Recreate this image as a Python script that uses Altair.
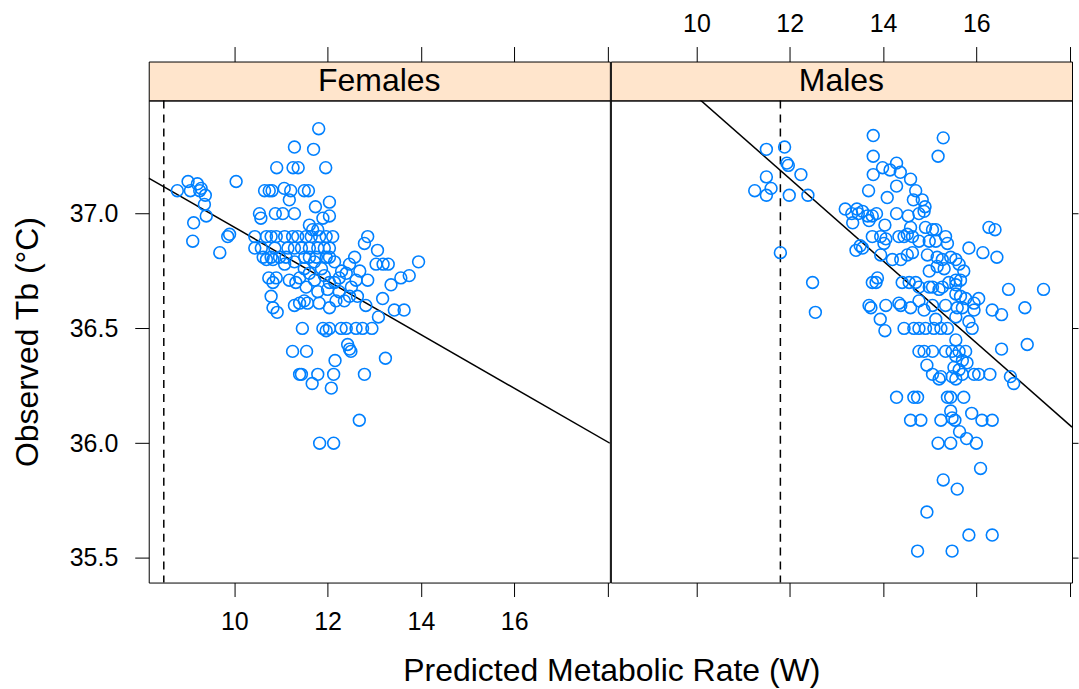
import altair as alt
import pandas as pd

FONT = "Liberation Sans"

panels = ["Females", "Males"]

# observed (predicted metabolic rate W, observed Tb °C)
female_obs = [
    (11.29, 37.29), (10.91, 37.20), (11.26, 37.20), (11.37, 37.20), (10.04, 37.14), (9.01, 37.14),
    (9.21, 37.13), (9.29, 37.11), (8.78, 37.10), (9.06, 37.10), (9.26, 37.10), (9.38, 37.08),
    (9.36, 37.04), (9.40, 36.99), (9.13, 36.96), (9.11, 36.88), (9.86, 36.90), (9.90, 36.91),
    (9.69, 36.83), (10.65, 37.10), (10.75, 37.10), (10.81, 37.10), (11.07, 37.11), (11.21, 37.10),
    (11.50, 37.10), (11.18, 37.06), (10.54, 37.00), (10.57, 36.98), (10.88, 37.00), (11.04, 37.00),
    (11.29, 37.00), (11.81, 37.37), (11.70, 37.28), (11.96, 37.20), (11.59, 37.10), (12.04, 37.05),
    (11.74, 37.03), (11.90, 36.98), (12.04, 36.99), (11.61, 36.95), (11.68, 36.93), (11.79, 36.93),
    (10.44, 36.90), (10.69, 36.90), (10.79, 36.90), (10.90, 36.90), (11.08, 36.90), (11.25, 36.90),
    (11.36, 36.90), (11.54, 36.90), (11.65, 36.90), (11.83, 36.90), (11.97, 36.90), (12.11, 36.90),
    (10.44, 36.85), (10.58, 36.85), (10.87, 36.85), (11.15, 36.85), (11.29, 36.85), (11.44, 36.85),
    (11.61, 36.85), (11.79, 36.85), (11.93, 36.85), (12.04, 36.85),
    (10.62, 36.81), (10.79, 36.81), (10.97, 36.81), (11.11, 36.81), (11.51, 36.81), (11.61, 36.81),
    (11.76, 36.81), (11.97, 36.81), (12.04, 36.81),
    (12.86, 36.90), (12.79, 36.87), (13.07, 36.84), (13.04, 36.78), (13.19, 36.78), (10.69, 36.80),
    (10.83, 36.80), (13.30, 36.78), (13.95, 36.79), (10.74, 36.72), (10.83, 36.70), (10.90, 36.72),
    (11.18, 36.71), (11.40, 36.72), (11.61, 36.74), (11.72, 36.71), (12.04, 36.70), (12.25, 36.72),
    (12.40, 36.74), (12.61, 36.71), (12.86, 36.71), (13.36, 36.69), (13.57, 36.72), (13.75, 36.73),
    (10.79, 36.64), (10.83, 36.59), (10.92, 36.57), (11.29, 36.60), (11.40, 36.61), (11.50, 36.62),
    (11.57, 36.61), (11.82, 36.61), (12.04, 36.59), (12.18, 36.62), (12.36, 36.62), (12.47, 36.64),
    (12.64, 36.64), (12.82, 36.60), (13.18, 36.63), (13.43, 36.58), (13.64, 36.58), (13.09, 36.55),
    (11.46, 36.50), (11.90, 36.50), (11.97, 36.49), (12.04, 36.50), (12.29, 36.50), (12.40, 36.50),
    (12.61, 36.50), (12.75, 36.50), (12.95, 36.50), (11.25, 36.40), (11.55, 36.40), (12.43, 36.43),
    (12.47, 36.41), (12.50, 36.40), (13.24, 36.37), (12.16, 36.36), (11.40, 36.30), (11.44, 36.30),
    (11.79, 36.30), (12.13, 36.30), (12.79, 36.30), (11.67, 36.26), (12.08, 36.24), (12.68, 36.10),
    (11.83, 36.00), (12.13, 36.00),
    (11.08, 36.78), (11.29, 36.79), (11.50, 36.76), (11.72, 36.79), (11.87, 36.76), (12.15, 36.79),
    (12.30, 36.75), (12.47, 36.78), (12.58, 36.81), (12.69, 36.75), (12.00, 36.67), (11.79, 36.66),
    (11.54, 36.68), (11.32, 36.70), (12.25, 36.66), (12.51, 36.68), (11.93, 36.73), (12.15, 36.70),
]

male_obs = [
    (11.50, 37.28), (11.89, 37.29), (11.94, 37.22), (11.97, 37.21), (11.50, 37.16), (12.24, 37.17),
    (11.25, 37.10), (11.60, 37.11), (11.50, 37.08), (11.99, 37.08), (12.39, 37.08),
    (13.19, 37.02), (13.33, 37.00), (13.44, 37.02), (13.47, 37.00), (13.35, 36.96), (11.80, 36.83),
    (12.49, 36.70), (12.55, 36.57), (13.42, 36.84), (13.51, 36.86),
    (13.79, 37.34), (15.29, 37.33), (13.79, 37.25), (15.18, 37.25), (13.99, 37.20), (14.15, 37.19),
    (14.29, 37.22), (14.37, 37.18), (13.79, 37.17), (14.29, 37.12), (14.59, 37.15), (13.69, 37.10),
    (14.70, 37.10), (14.09, 37.07), (14.65, 37.06), (14.84, 37.06), (14.90, 37.03), (14.77, 37.00),
    (14.88, 37.01), (13.56, 37.01), (13.67, 36.99), (13.77, 36.99), (13.86, 37.00), (13.70, 36.97),
    (14.29, 37.00), (14.54, 36.99), (14.04, 36.95), (16.27, 36.94), (16.40, 36.93), (14.59, 36.94),
    (14.91, 36.94), (15.06, 36.93), (15.13, 36.93),
    (13.77, 36.90), (13.95, 36.90), (14.06, 36.89), (14.02, 36.87), (14.34, 36.90), (14.45, 36.90),
    (14.52, 36.91), (14.63, 36.90), (14.77, 36.88), (14.99, 36.88), (15.13, 36.88), (15.34, 36.90),
    (15.38, 36.87), (13.56, 36.85), (13.95, 36.82), (14.20, 36.80), (14.38, 36.80), (14.52, 36.82),
    (14.63, 36.83), (15.84, 36.85), (16.14, 36.83), (16.44, 36.81), (14.95, 36.82), (15.16, 36.81),
    (15.27, 36.80), (15.45, 36.81), (15.56, 36.80), (15.63, 36.78), (15.73, 36.75),
    (13.88, 36.72), (13.85, 36.70), (14.41, 36.70), (14.56, 36.70), (14.70, 36.70), (14.77, 36.68),
    (14.99, 36.75), (15.16, 36.77), (15.31, 36.76), (15.06, 36.68), (15.27, 36.68), (15.41, 36.70),
    (15.56, 36.71), (15.66, 36.71), (16.69, 36.67), (17.44, 36.67), (13.77, 36.70), (14.99, 36.68),
    (15.20, 36.67), (15.56, 36.69),
    (13.70, 36.60), (13.74, 36.59), (14.06, 36.60), (14.34, 36.61), (14.38, 36.60), (14.59, 36.59),
    (14.77, 36.62), (14.88, 36.58), (15.06, 36.60), (15.34, 36.60), (15.56, 36.65), (15.66, 36.64),
    (15.77, 36.63), (15.95, 36.61), (16.05, 36.63), (15.59, 36.59), (15.70, 36.59), (15.95, 36.58),
    (16.34, 36.58), (16.54, 36.56), (17.04, 36.59),
    (13.94, 36.54), (14.04, 36.49), (15.13, 36.54), (15.56, 36.55), (15.84, 36.53), (15.91, 36.50),
    (14.45, 36.50), (14.66, 36.50), (14.77, 36.50), (14.91, 36.50), (15.09, 36.50), (15.24, 36.50),
    (15.38, 36.50), (15.56, 36.45), (17.09, 36.43), (16.54, 36.41),
    (14.77, 36.40), (14.88, 36.40), (15.06, 36.40), (15.34, 36.40), (15.48, 36.40), (15.63, 36.40),
    (15.77, 36.40), (15.56, 36.38), (15.70, 36.36), (15.80, 36.35), (14.94, 36.34), (15.52, 36.33),
    (15.63, 36.32), (15.06, 36.30), (15.20, 36.28), (15.24, 36.29), (15.48, 36.29), (15.56, 36.28),
    (15.70, 36.30), (15.95, 36.30), (16.05, 36.30), (16.29, 36.30), (16.73, 36.29), (16.80, 36.26),
    (14.29, 36.20), (14.66, 36.20), (14.74, 36.20), (15.38, 36.20), (15.45, 36.20), (15.73, 36.20),
    (15.45, 36.14), (15.90, 36.13), (14.59, 36.10), (14.81, 36.10), (15.24, 36.10), (15.48, 36.11),
    (15.54, 36.10), (16.12, 36.10), (16.34, 36.10), (15.64, 36.05), (15.79, 36.02), (15.18, 36.00),
    (15.45, 36.00), (16.00, 36.00), (16.09, 35.89), (15.29, 35.84), (15.59, 35.80), (14.94, 35.70),
    (15.84, 35.60), (16.34, 35.60), (14.74, 35.53), (15.48, 35.53),
]

# fitted regression lines (end points) and dashed reference lines
fit_rate = {"Females": [8.167, 18.05], "Males": [10.0, 18.05]}
fit_tb = {"Females": [37.155, 36.0], "Males": [37.51, 36.07]}
ref_rate = {"Females": 8.49, "Males": 11.80}

X_DOMAIN = [8.167, 18.05]
Y_DOMAIN = [35.393, 37.493]
X_TICKS = [10, 12, 14, 16, 18]
Y_TICKS = [35.5, 36.0, 36.5, 37.0]

PANEL_W = 462
PANEL_H = 483
STRIP_H = 39
TICK = 14
LABEL_EXPR = "datum.value == 18 ? '' : datum.label"


def make_panel(name, obs, first):
    df = pd.DataFrame(obs, columns=["rate", "tb"])
    fit = pd.DataFrame({"rate": fit_rate[name], "tb": fit_tb[name]})
    ref = pd.DataFrame({"rate": [ref_rate[name]]})
    xs = alt.Scale(domain=X_DOMAIN, nice=False, zero=False)
    ys = alt.Scale(domain=Y_DOMAIN, nice=False, zero=False)

    x_axis = alt.Axis(orient="bottom", values=X_TICKS, labels=first, labelExpr=LABEL_EXPR,
                      title=None, grid=False, domain=False, tickSize=TICK, labelPadding=13)
    if first:
        y_axis = alt.Axis(orient="left", values=Y_TICKS, format=".1f", grid=False, domain=False,
                          tickSize=TICK, labelPadding=17, title="Observed Tb (°C)",
                          titlePadding=25, titleFontSize=32)
    else:
        y_axis = alt.Axis(orient="right", values=Y_TICKS, labels=False, grid=False, domain=False,
                          tickSize=6, title=None)
    xenc = alt.X("rate:Q", scale=xs, axis=x_axis)
    yenc = alt.Y("tb:Q", scale=ys, axis=y_axis)

    rule = alt.Chart(ref).mark_rule(color="black", strokeWidth=1.5, strokeDash=[8, 6]).encode(x=xenc)
    line = alt.Chart(fit).mark_line(color="black", strokeWidth=1.5, clip=True).encode(x=xenc, y=yenc)
    pts = alt.Chart(df).mark_point(shape="circle", filled=False, size=140, strokeWidth=1.6,
                                   color="#0080ff", opacity=1).encode(x=xenc, y=yenc)
    plot = alt.layer(rule, line, pts).properties(width=PANEL_W, height=PANEL_H)

    top_axis = alt.Axis(orient="top", values=X_TICKS, labels=not first, labelExpr=LABEL_EXPR,
                        title=None, grid=False, domain=False, tickSize=15, labelPadding=10)
    strip_axis = alt.Chart(df).mark_point(opacity=0).encode(
        x=alt.X("rate:Q", scale=xs, axis=top_axis))
    strip_text = alt.Chart(pd.DataFrame({"panel": [name]})).mark_text(
        fontSize=32, font=FONT, color="black").encode(text="panel:N")
    strip = alt.layer(strip_axis, strip_text).properties(
        width=PANEL_W, height=STRIP_H,
        view=alt.ViewBackground(fill="#FFE5CC", stroke="black", strokeWidth=1))
    return alt.vconcat(strip, plot, spacing=0, bounds="flush")


left = make_panel(panels[0], female_obs, True)
right = make_panel(panels[1], male_obs, False)

chart = alt.hconcat(left, right, spacing=-3).properties(
    title=alt.TitleParams(text="Predicted Metabolic Rate (W)", orient="bottom", anchor="middle",
                          fontSize=32, font=FONT, fontWeight="normal", color="black", dx=67, offset=21),
    background="white",
    padding={"left": 10, "top": 10, "right": 0, "bottom": 0},
).configure_view(
    stroke="black", strokeWidth=1
).configure_axis(
    labelFont=FONT, titleFont=FONT, labelFontSize=25, labelColor="black", titleColor="black",
    tickColor="black", tickWidth=1, titleFontWeight="normal"
)

chart.save("out.html", embed_options={"renderer": "svg", "actions": False})
